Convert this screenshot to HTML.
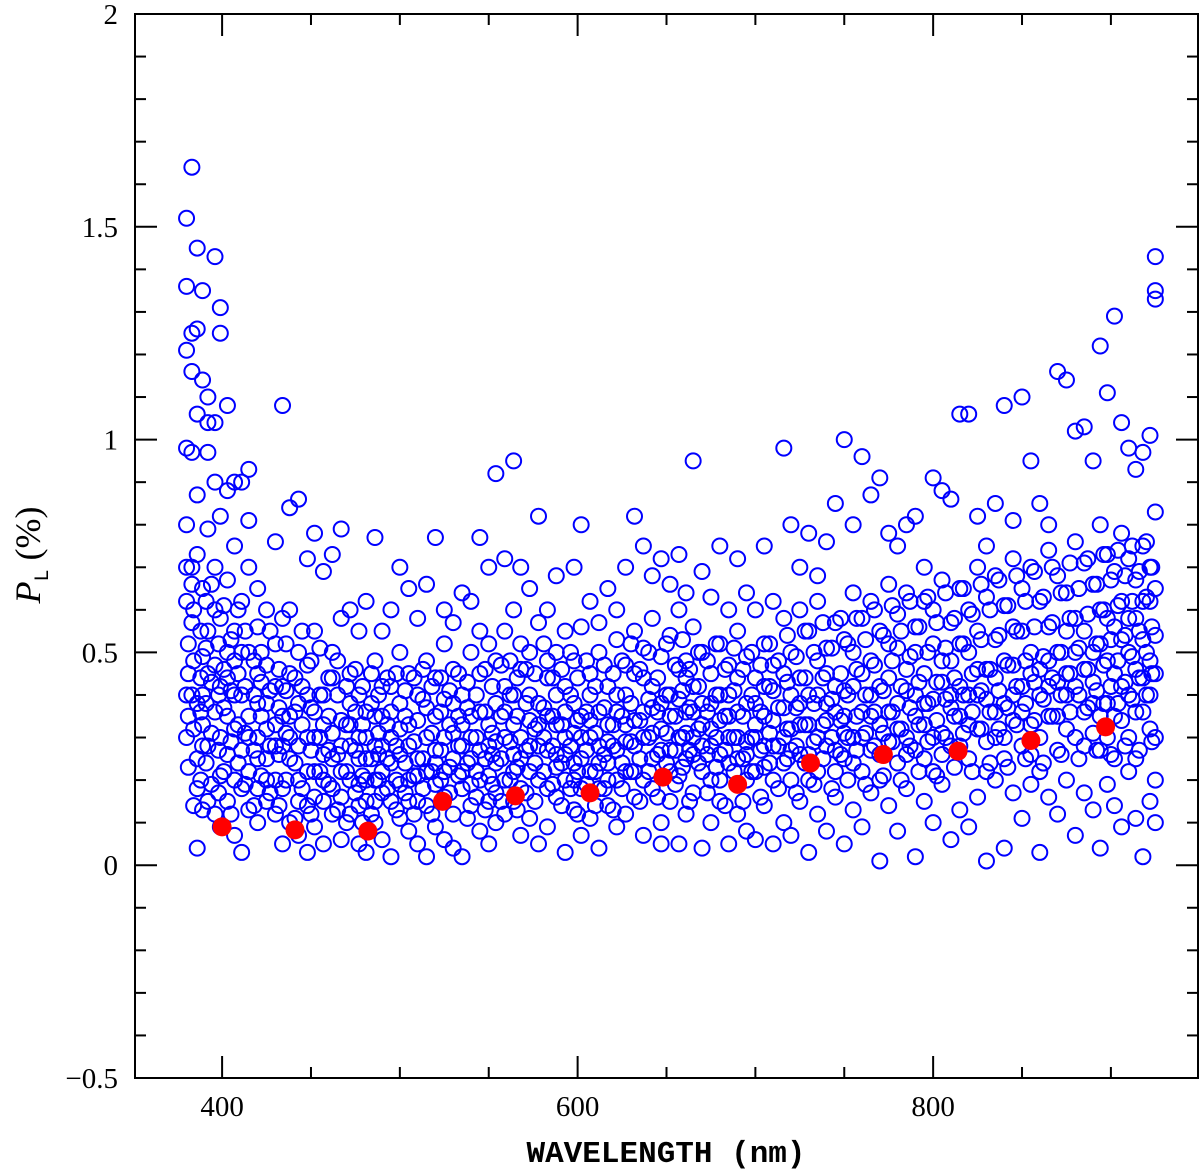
<!DOCTYPE html>
<html><head><meta charset="utf-8"><style>
body{margin:0;background:#fff;}
svg{display:block;}
</style></head><body>
<svg id="chart" width="1200" height="1171" viewBox="0 0 1200 1171" xmlns="http://www.w3.org/2000/svg">
<g id="blue"></g>
<g id="red"></g>
<g id="axes"></g>
<text x="666" y="1162" text-anchor="middle" font-family="Liberation Mono, monospace" font-weight="bold" font-size="31">WAVELENGTH (nm)</text>
<text transform="translate(40,555) rotate(-90)" text-anchor="middle" font-family="Liberation Serif, serif" font-size="36"><tspan font-style="italic">P</tspan><tspan font-size="20" dy="8" font-family="Liberation Mono, monospace">L</tspan><tspan dy="-8"> (%)</tspan></text>
</svg>
<script>
const blueRows = [
[380,1.52,1.36,0.62,0.30,1.21,0.98,0.70,0.40,0.80],
[383,1.64,1.25,0.40,0.70,1.16,0.57,0.97,0.66],
[386,1.45,1.06,0.18,0.04,0.87,0.25,0.38,1.26,0.73],
[389,1.35,1.14,0.65,0.13,0.49,0.33,0.40,0.28],
[392,1.04,1.10,0.79,0.15,0.55,0.28,0.97,0.45],
[396,1.43,0.90,0.47,0.12,0.70,0.36,1.04,0.60],
[399,1.31,1.25,0.82,0.21,0.58,0.09,0.42,0.30],
[403,1.08,0.88,0.44,0.26,0.67,0.15,0.50,0.35],
[407,0.75,0.48,0.32,0.07,0.55,0.20,0.90,0.40],
[411,0.90,0.62,0.40,0.03,0.27,0.50,0.18],
[415,0.93,0.70,0.35,0.13,0.50,0.22,0.81,0.30],
[420,0.65,0.45,0.30,0.10,0.18,0.56,0.38,0.25],
[425,0.60,0.38,0.25,0.15,0.47,0.32,0.20],
[430,0.76,0.52,0.33,0.12,0.20,0.42,0.28],
[434,1.08,0.58,0.42,0.05,0.28,0.35,0.18],
[438,0.84,0.45,0.25,0.10,0.35,0.60,0.30],
[443,0.86,0.38,0.20,0.07,0.50,0.28,0.15],
[448,0.72,0.47,0.30,0.14,0.03,0.40,0.22],
[452,0.78,0.55,0.36,0.09,0.22,0.30,0.16],
[457,0.69,0.40,0.26,0.05,0.15,0.33,0.20],
[462,0.73,0.50,0.31,0.18,0.44,0.25,0.12],
[467,0.79,0.34,0.22,0.06,0.58,0.28,0.16],
[472,0.60,0.45,0.28,0.12,0.38,0.20,0.33],
[477,0.55,0.40,0.19,0.05,0.30,0.25,0.14],
[481,0.62,0.36,0.25,0.03,0.15,0.30,0.20],
[486,0.77,0.48,0.28,0.10,0.20,0.35,0.15],
[490,0.55,0.35,0.22,0.06,0.42,0.28,0.17],
[495,0.60,0.42,0.30,0.15,0.02,0.24,0.36],
[500,0.70,0.38,0.26,0.11,0.50,0.32,0.19],
[505,0.65,0.45,0.33,0.08,0.20,0.28,0.15],
[510,0.58,0.40,0.25,0.05,0.15,0.34,0.21],
[515,0.66,0.48,0.30,0.02,0.37,0.22,0.14],
[520,0.77,0.44,0.27,0.09,0.19,0.35,0.24],
[525,0.60,0.39,0.22,0.06,0.52,0.30,0.16],
[530,0.57,0.46,0.31,0.12,0.04,0.25,0.38],
[535,0.64,0.40,0.28,0.02,0.18,0.33,0.22],
[540,0.62,0.50,0.35,0.14,0.25,0.30,0.19],
[545,0.77,0.45,0.27,0.08,0.55,0.36,0.20],
[550,0.70,0.52,0.33,0.05,0.21,0.28,0.15],
[554,0.92,0.48,0.29,0.10,0.38,0.24,0.17],
[559,0.72,0.55,0.36,0.12,0.20,0.30,0.42],
[564,0.95,0.60,0.40,0.15,0.26,0.33,0.22],
[568,0.70,0.46,0.30,0.07,0.52,0.25,0.18],
[573,0.65,0.50,0.34,0.11,0.22,0.28,0.40],
[578,0.82,0.57,0.38,0.05,0.28,0.20,0.33],
[583,0.60,0.44,0.27,0.09,0.48,0.35,0.18],
[588,0.68,0.50,0.33,0.16,0.23,0.40,0.26],
[593,0.55,0.42,0.26,0.03,0.36,0.20,0.30],
[598,0.70,0.48,0.31,0.13,0.20,0.38,0.24],
[602,0.80,0.56,0.35,0.07,0.25,0.30,0.18],
[607,0.62,0.45,0.30,0.11,0.40,0.22,0.34],
[612,0.57,0.50,0.28,0.04,0.18,0.36,0.24],
[617,0.65,0.42,0.33,0.14,0.24,0.29,0.20],
[622,0.60,0.53,0.36,0.09,0.20,0.40,0.27],
[627,0.70,0.47,0.29,0.12,0.40,0.33,0.22],
[632,0.82,0.55,0.34,0.16,0.22,0.28,0.45],
[637,0.75,0.51,0.30,0.07,0.44,0.36,0.20],
[642,0.68,0.58,0.37,0.18,0.25,0.31,0.42],
[647,0.72,0.49,0.32,0.10,0.05,0.27,0.38],
[652,0.66,0.54,0.35,0.15,0.27,0.22,0.40],
[657,0.73,0.60,0.39,0.05,0.21,0.30,0.46],
[661,0.64,0.48,0.31,0.12,0.44,0.25,0.36],
[665,0.95,0.56,0.36,0.17,0.26,0.30,0.42],
[670,0.69,0.50,0.33,0.04,0.22,0.28,0.38],
[675,0.63,0.45,0.28,0.10,0.38,0.20,0.32],
[680,0.75,0.52,0.34,0.15,0.20,0.40,0.26],
[685,0.60,0.47,0.30,0.05,0.40,0.24,0.35],
[690,0.72,0.55,0.36,0.12,0.25,0.30,0.44],
[695,0.64,0.49,0.29,0.08,0.20,0.38,0.26],
[700,0.60,0.44,0.33,0.06,0.38,0.22,0.30],
[705,0.75,0.52,0.35,0.14,0.23,0.28,0.42],
[710,0.62,0.47,0.28,0.05,0.41,0.20,0.34],
[716,0.98,0.58,0.37,0.10,0.24,0.30,0.45],
[720,0.80,0.50,0.32,0.07,0.20,0.40,0.27],
[725,0.70,0.60,0.38,0.15,0.44,0.26,0.33],
[730,0.78,0.55,0.33,0.03,0.26,0.40,0.20],
[735,0.68,0.62,0.40,0.12,0.22,0.30,0.48],
[740,0.76,0.51,0.34,0.08,0.45,0.28,0.38],
[745,0.85,0.57,0.36,0.16,0.27,0.42,0.22],
[750,1.00,0.53,0.31,0.05,0.41,0.25,0.35],
[755,0.80,0.64,0.42,0.13,0.24,0.30,0.50],
[760,0.96,0.58,0.36,0.09,0.30,0.45,0.22],
[765,0.87,0.62,0.40,0.17,0.48,0.27,0.35],
[770,0.91,0.55,0.33,0.01,0.26,0.42,0.20],
[775,0.78,0.66,0.44,0.14,0.29,0.36,0.52],
[780,0.75,0.59,0.38,0.08,0.51,0.24,0.32],
[785,0.80,0.64,0.41,0.18,0.30,0.46,0.26],
[790,0.82,0.56,0.35,0.02,0.27,0.40,0.50],
[795,0.70,0.62,0.45,0.15,0.33,0.25,0.38],
[800,0.91,0.60,0.39,0.10,0.52,0.30,0.22],
[805,0.88,0.67,0.43,0.19,0.31,0.48,0.26],
[810,0.86,0.57,0.37,0.06,0.48,0.28,0.40],
[815,1.06,0.65,0.42,0.13,0.28,0.35,0.52],
[820,1.06,0.60,0.40,0.09,0.50,0.25,0.33],
[825,0.82,0.70,0.46,0.16,0.32,0.40,0.55],
[830,0.75,0.63,0.39,0.01,0.29,0.46,0.22],
[835,0.85,0.68,0.44,0.20,0.53,0.30,0.36],
[840,1.08,0.61,0.38,0.04,0.30,0.48,0.25],
[845,0.81,0.72,0.47,0.17,0.34,0.40,0.56],
[850,1.10,0.65,0.42,0.11,0.55,0.28,0.36],
[855,0.95,0.70,0.45,0.19,0.33,0.50,0.26],
[860,0.85,0.62,0.40,0.03,0.30,0.46,0.22],
[865,0.80,0.74,0.48,0.16,0.56,0.35,0.42],
[870,1.16,0.68,0.43,0.12,0.35,0.50,0.27],
[875,1.14,0.64,0.45,0.20,0.32,0.55,0.40],
[880,1.02,0.76,0.50,0.07,0.58,0.30,0.42],
[885,1.03,0.71,0.46,0.17,0.36,0.55,0.28],
[890,0.95,0.66,0.43,0.13,0.31,0.50,0.38],
[894,1.22,0.80,0.52,0.04,0.60,0.35,0.27],
[898,1.11,0.73,0.48,0.19,0.38,0.58,0.30],
[902,1.29,0.69,0.45,0.14,0.56,0.35,0.25],
[906,1.04,0.78,0.53,0.09,0.34,0.62,0.42],
[910,0.98,0.72,0.50,0.22,0.40,0.30,0.58],
[914,0.93,0.67,0.46,0.11,0.58,0.36,0.25],
[918,0.97,0.75,0.53,0.02,0.36,0.44,0.62],
[922,1.01,0.70,0.48,0.15,0.62,0.32,0.40],
[925,1.43,1.35,1.33,0.83,0.54,0.30,0.10,0.45,0.20,0.65]
];
const blueRows2 = [
[381,0.45,0.23,0.52,0.35],[384,0.60,0.32,0.48,0.14],[388,0.55,0.20,0.44,0.36],[391,0.62,0.38,0.24,0.51],
[394,0.43,0.19,0.66,0.31],[398,0.52,0.27,0.40,0.17],[401,0.37,0.22,0.61,0.46],[405,0.41,0.12,0.29,0.53],
[409,0.33,0.24,0.45,0.60],[413,0.42,0.19,0.31,0.55],[418,0.27,0.40,0.14,0.48],[422,0.35,0.21,0.50,0.43],
[427,0.41,0.28,0.17,0.55],[432,0.26,0.37,0.46,0.14],[436,0.31,0.20,0.52,0.41],[441,0.24,0.36,0.44,0.11],
[445,0.33,0.18,0.42,0.55],[450,0.27,0.12,0.37,0.48],[455,0.22,0.40,0.30,0.51],[460,0.35,0.19,0.27,0.44],
[465,0.26,0.40,0.13,0.48],[470,0.33,0.22,0.42,0.10],[475,0.27,0.36,0.46,0.17],[479,0.21,0.33,0.42,0.10],
[484,0.25,0.38,0.12,0.45],[488,0.31,0.20,0.40,0.26],[493,0.18,0.33,0.44,0.25],[498,0.28,0.20,0.45,0.13],
[503,0.35,0.24,0.41,0.17],[508,0.29,0.21,0.44,0.12],[513,0.25,0.39,0.18,0.46],[518,0.31,0.22,0.42,0.12],
[523,0.27,0.36,0.20,0.44],[528,0.33,0.23,0.41,0.17],[533,0.21,0.35,0.28,0.45],[538,0.37,0.24,0.43,0.11],
[543,0.30,0.22,0.40,0.16],[548,0.36,0.25,0.46,0.13],[552,0.31,0.19,0.42,0.26],[557,0.25,0.35,0.47,0.15],
[562,0.29,0.40,0.20,0.48],[566,0.35,0.23,0.44,0.13],[571,0.27,0.38,0.17,0.46],[576,0.32,0.24,0.45,0.15],
[581,0.37,0.22,0.30,0.52],[586,0.28,0.19,0.44,0.35],[591,0.33,0.24,0.46,0.14],[596,0.28,0.40,0.18,0.50],
[600,0.34,0.22,0.44,0.12],[605,0.27,0.36,0.48,0.19],[610,0.31,0.22,0.42,0.14],[615,0.37,0.26,0.47,0.18],
[620,0.28,0.33,0.45,0.13],[625,0.35,0.24,0.48,0.18],[630,0.29,0.38,0.22,0.52],[635,0.34,0.25,0.46,0.15],
[640,0.30,0.39,0.22,0.50],[645,0.36,0.26,0.44,0.16],[650,0.31,0.40,0.24,0.52],[655,0.35,0.27,0.47,0.19],
[659,0.30,0.41,0.23,0.53],[663,0.37,0.27,0.46,0.15],[668,0.32,0.42,0.24,0.50],[673,0.36,0.26,0.48,0.17],
[678,0.30,0.40,0.23,0.52],[683,0.35,0.27,0.46,0.14],[688,0.30,0.41,0.22,0.51],[693,0.35,0.25,0.46,0.15],
[698,0.30,0.40,0.22,0.50],[703,0.36,0.27,0.47,0.16],[708,0.31,0.42,0.24,0.52],[713,0.37,0.28,0.48,0.18],
[718,0.32,0.43,0.25,0.54],[723,0.37,0.28,0.49,0.17],[728,0.33,0.44,0.24,0.55],[733,0.38,0.29,0.50,0.19],
[738,0.33,0.44,0.25,0.57],[743,0.39,0.30,0.51,0.18],[748,0.34,0.45,0.26,0.58],[752,0.40,0.30,0.52,0.20],
[757,0.35,0.46,0.27,0.58],[762,0.40,0.31,0.53,0.19],[767,0.36,0.47,0.28,0.60],[772,0.41,0.31,0.54,0.21],
[777,0.36,0.48,0.29,0.61],[782,0.42,0.32,0.55,0.20],[787,0.37,0.49,0.28,0.62],[792,0.43,0.33,0.56,0.22],
[797,0.38,0.50,0.29,0.63],[802,0.43,0.34,0.57,0.21],[807,0.39,0.51,0.30,0.64],[812,0.44,0.35,0.58,0.23],
[817,0.40,0.52,0.31,0.65],[822,0.45,0.36,0.59,0.22],[827,0.41,0.53,0.32,0.66],[832,0.46,0.36,0.60,0.24],
[837,0.41,0.54,0.32,0.67],[842,0.47,0.37,0.61,0.23],[847,0.42,0.55,0.33,0.68],[852,0.48,0.38,0.62,0.25],
[857,0.43,0.56,0.34,0.69],[862,0.49,0.39,0.63,0.24],[867,0.44,0.57,0.35,0.70],[872,0.50,0.40,0.64,0.26],
[877,0.45,0.58,0.36,0.71],[882,0.51,0.40,0.65,0.25],[887,0.46,0.59,0.37,0.72],[892,0.52,0.41,0.66,0.27],
[896,0.47,0.60,0.38,0.73],[900,0.53,0.42,0.67,0.26],[904,0.48,0.61,0.38,0.74],[908,0.54,0.43,0.68,0.28],
[912,0.49,0.62,0.39,0.75],[916,0.55,0.44,0.69,0.27],[920,0.50,0.63,0.40,0.76],[923,0.56,0.45,0.70,0.29]
];
const redX = [400,441,482,524,565,607,648,690,731,772,814,855,897];
const redY = [0.09,0.083,0.08,0.15,0.163,0.17,0.207,0.19,0.24,0.26,0.268,0.293,0.325];
const xMajor = [400,600,800];
const yMajor = [-0.5,0,0.5,1,1.5,2];
const yMajorLabels = ["\u22120.5","0","0.5","1","1.5","2"];

const NS = "http://www.w3.org/2000/svg";
const L = 135, R = 1198, T = 14, B = 1078;
const xMin = 351, xMax = 949, yMin = -0.5, yMax = 2;
function sx(v){ return L + (v - xMin) / (xMax - xMin) * (R - L); }
function sy(v){ return B - (v - yMin) / (yMax - yMin) * (B - T); }
function mk(tag, attrs, parent){ const e = document.createElementNS(NS, tag); for (const k in attrs) e.setAttribute(k, attrs[k]); parent.appendChild(e); return e; }

const gb = document.getElementById('blue');
blueRows.concat(blueRows2).forEach(row => {
  for (let i = 1; i < row.length; i++) {
    const c = mk('circle', {cx: sx(row[0]), cy: sy(row[i]), r: 7.5, fill: 'none', stroke: '#0000ff', 'stroke-width': 2}, gb);
    
    
  }
});
const gr = document.getElementById('red');
redX.forEach((x, i) => {
  const c = mk('circle', {cx: sx(x), cy: sy(redY[i]), r: 9.5, fill: '#ff0000'}, gr);
  
  
});

const ga = document.getElementById('axes');
const fr = mk('rect', {x: L, y: T, width: R - L, height: B - T, fill: 'none', stroke: '#000', 'stroke-width': 2}, ga);


for (let v = 400; v <= 900; v += 50) {
  const major = xMajor.includes(v), len = major ? 22 : 11;
  mk('line', {x1: sx(v), x2: sx(v), y1: B, y2: B - len, stroke: '#000', 'stroke-width': 2}, ga);
  mk('line', {x1: sx(v), x2: sx(v), y1: T, y2: T + len, stroke: '#000', 'stroke-width': 2}, ga);
}
xMajor.forEach(v => {
  const t = mk('text', {x: sx(v), y: 1116, 'text-anchor': 'middle', 'font-family': 'Liberation Serif, serif', 'font-size': 29}, ga);
  t.textContent = String(v);
  
  
});
for (let k = -5; k <= 20; k++) {
  const v = k / 10, major = k % 5 === 0, len = major ? 22 : 11;
  mk('line', {x1: L, x2: L + len, y1: sy(v), y2: sy(v), stroke: '#000', 'stroke-width': 2}, ga);
  mk('line', {x1: R, x2: R - len, y1: sy(v), y2: sy(v), stroke: '#000', 'stroke-width': 2}, ga);
}
yMajor.forEach((v, i) => {
  const t = mk('text', {x: 118, y: sy(v) + 10, 'text-anchor': 'end', 'font-family': 'Liberation Serif, serif', 'font-size': 29}, ga);
  t.textContent = yMajorLabels[i];
  
  
});
</script>
</body></html>
